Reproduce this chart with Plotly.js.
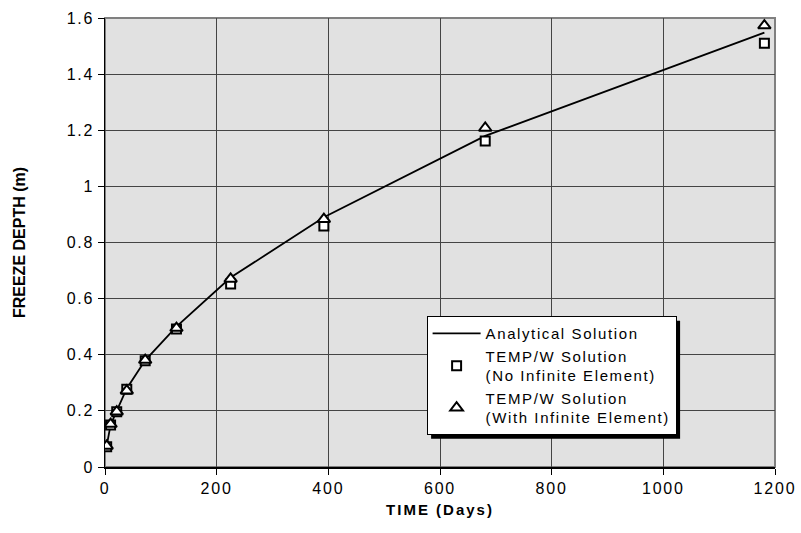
<!DOCTYPE html>
<html>
<head>
<meta charset="utf-8">
<script src="https://cdn.plot.ly/plotly-3.0.1.min.js"></script>
<style>
  body { margin: 0; background: #fff; }
  #chart { width: 801px; height: 533px; }
  .xtick text, .ytick text { letter-spacing: 1.8px; }
  .legendtext { letter-spacing: 1.6px; }
  .g-xtitle text { letter-spacing: 2px; }
</style>
</head>
<body>
<div id="chart"></div>
<script>
// Time (days)
const timeDays = [3, 10, 21, 39, 72, 128, 225, 392, 681, 1181];
// Analytical solution (m)
const analytical = [0.075, 0.15, 0.2, 0.28, 0.38, 0.5, 0.675, 0.89, 1.18, 1.548];
// TEMP/W solution, no infinite element (m)
const noInfinite = [0.072, 0.15, 0.197, 0.277, 0.379, 0.492, 0.652, 0.859, 1.162, 1.51];
// TEMP/W solution, with infinite element (m)
const withInfinite = [0.075, 0.153, 0.197, 0.272, 0.381, 0.495, 0.67, 0.883, 1.208, 1.573];

const names = [
  'Analytical Solution',
  'TEMP/W Solution<br>(No Infinite Element)',
  'TEMP/W Solution<br>(With Infinite Element)'
];

const FONT = 'Liberation Sans, Arial, sans-serif';

const traces = [
  { x: timeDays, y: analytical, mode: 'lines', name: names[0],
    line: { color: '#000', width: 1.8 }, legendgroup: 'a' },
  { x: timeDays, y: noInfinite, mode: 'markers', name: names[1],
    marker: { symbol: 'square', size: 9, color: '#fff', line: { color: '#000', width: 2 } }, legendgroup: 'b' },
  { x: timeDays, y: withInfinite, mode: 'markers', name: names[2],
    marker: { symbol: 'triangle-up', size: 11, color: '#fff', line: { color: '#000', width: 2 } }, legendgroup: 'c' }
];

const layout = {
  width: 801, height: 533,
  margin: { l: 105, r: 26, t: 18, b: 66 },
  paper_bgcolor: '#fff',
  plot_bgcolor: '#e1e1e1',
  font: { family: FONT, color: '#000', size: 16 },
  showlegend: true,
  legend: {
    x: 0.48, y: 0.336, xanchor: 'left', yanchor: 'top',
    bgcolor: '#fff', bordercolor: '#000', borderwidth: 1,
    font: { family: FONT, size: 15, color: '#000' },
    tracegroupgap: 9, traceorder: 'normal', itemwidth: 48
  },
  xaxis: {
    range: [0, 1200], dtick: 200, tick0: 0,
    showgrid: true, gridcolor: '#444', gridwidth: 1,
    zeroline: false, showline: true, linecolor: '#000', linewidth: 1.5,
    ticks: 'outside', ticklen: 6, tickcolor: '#000',
    tickfont: { family: FONT, size: 16 },
    title: { text: '<b>TIME (Days)</b>', font: { family: FONT, size: 15 }, standoff: 9 }
  },
  yaxis: {
    range: [0, 1.6], dtick: 0.2, tick0: 0,
    showgrid: true, gridcolor: '#444', gridwidth: 1,
    zeroline: false, showline: true, linecolor: '#000', linewidth: 1.5,
    ticks: 'outside', ticklen: 6, tickcolor: '#000',
    tickfont: { family: FONT, size: 16 },
    title: { text: '<b>FREEZE DEPTH (m)</b>', font: { family: 'Liberation Sans Narrow, Arial Narrow, ' + FONT, size: 16 }, standoff: 37 }
  },
  shapes: [
    { type: 'rect', xref: 'paper', yref: 'paper', x0: 0, x1: 1, y0: 0, y1: 1,
      line: { color: '#808080', width: 2 }, fillcolor: 'rgba(0,0,0,0)', layer: 'below' }
  ]
};

Plotly.newPlot('chart', traces, layout, { displayModeBar: false, staticPlot: true }).then(function (gd) {
  // legend drop shadow, positioned from the rendered legend box
  const bg = gd.querySelector('.legend .bg');
  if (!bg) return;
  const r = bg.getBoundingClientRect();
  const c = gd.getBoundingClientRect();
  const fl = gd._fullLayout;
  const W = fl._size.w, H = fl._size.h, L = fl._size.l, T = fl._size.t;
  const px2x = p => (p - c.left - L) / W;
  const px2y = p => 1 - (p - c.top - T) / H;
  const off = 4;
  const shadow = {
    type: 'rect', xref: 'paper', yref: 'paper',
    x0: px2x(r.left + off), x1: px2x(r.right + off),
    y0: px2y(r.bottom + off), y1: px2y(r.top + off),
    line: { width: 0 }, fillcolor: '#000', layer: 'above'
  };
  return Plotly.relayout(gd, { shapes: layout.shapes.concat([shadow]) });
});
</script>
</body>
</html>
